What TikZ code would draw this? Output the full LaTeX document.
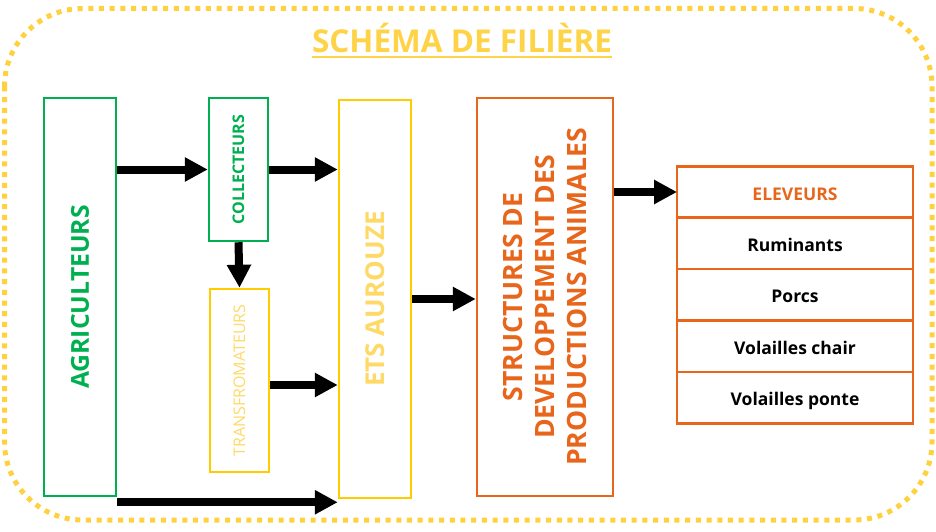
\documentclass[tikz,border=0pt]{standalone}
\usepackage{fontspec}
\setmainfont{Open Sans}
\usetikzlibrary{positioning,arrows.meta}
\definecolor{agrigreen}{HTML}{00B050}
\definecolor{etsyellow}{HTML}{FFCC00}
\definecolor{paleyellow}{HTML}{FFD966}
\definecolor{titleyellow}{HTML}{FFD347}
\definecolor{dotyellow}{HTML}{FFD13F}
\definecolor{sdorange}{HTML}{E7661C}
\tikzset{
  box/.style={draw, line width=2.5pt, minimum width=#1, inner sep=0pt},
  greenbox/.style={box=#1, agrigreen},
  yellowbox/.style={box=#1, etsyellow},
  orangebox/.style={box=#1, sdorange},
  vtext/.style={rotate=90, inner sep=0pt, font=\fontsize{#1}{#1}\selectfont\bfseries},
  row/.style={draw=sdorange, line width=2.5pt, minimum width=236pt, minimum height=51.4pt,
    outer sep=0pt, inner sep=0pt, text height=16pt, text depth=0pt,
    font=\fontsize{17.5}{20}\selectfont\bfseries},
  flow/.style={line width=8pt, -{Triangle[length=23pt,width=23pt]}}
}

\begin{document}
\begin{tikzpicture}[x=1pt,y=-1pt]
\useasboundingbox (0,0) rectangle (936,532);
\draw [dotyellow, line width=5pt, dash pattern=on 5pt off 5.7pt, rounded corners=78pt]
  (4.5,8.5) rectangle (932,520);
\node [titleyellow, anchor=base, inner sep=0pt, font=\fontsize{31.5}{31.5}\selectfont\bfseries]
  (title) at (462,53) {SCHÉMA DE FILIÈRE};
\draw [titleyellow, line width=1.5pt] ([yshift=-4pt]title.base west) -- ([yshift=-4pt]title.base east);

\node [greenbox=72pt, minimum height=398pt] (agri) at (80,297) {};
\node [vtext=24.7, agrigreen] at (agri) {AGRICULTEURS};
\node [greenbox=59pt, minimum height=143pt] (coll) at (238.5,169.5) {};
\node [vtext=16, agrigreen] at (coll) {COLLECTEURS};
\node [yellowbox=59pt, minimum height=183pt] (transf) at (239.5,380.5) {};
\node [vtext=16, paleyellow, font={\fontsize{16}{16}\selectfont\mdseries}] at (transf) {TRANSFROMATEURS};
\node [yellowbox=72pt, minimum height=398pt] (ets) at (375,299) {};
\node [vtext=26, paleyellow] at (ets) {ETS AUROUZE};
\node [orangebox=136pt, minimum height=398pt] (sdpa) at (545,297) {};
\node [vtext=26.6, sdorange, align=center, font=\fontsize{26.6}{32}\selectfont\bfseries] at (sdpa)
  {STRUCTURES DE\\DEVELOPPEMENT DES\\PRODUCTIONS ANIMALES};

\node [row, text=sdorange] (elev) at (795,192) {ELEVEURS};
\node [row, below=0pt of elev] (rum) {Ruminants};
\node [row, below=0pt of rum] (porcs) {Porcs};
\node [row, below=0pt of porcs] (vchair) {Volailles chair};
\node [row, below=0pt of vchair] (vponte) {Volailles ponte};

\draw [flow] (agri.east |- coll.west) -- (coll.west);
\draw [flow] (coll.east) -- (coll.east -| ets.west);
\draw [flow] (coll.south) -- (transf.north);
\draw [flow] ([yshift=-4.5pt]transf.east) -- ([yshift=-4.5pt]transf.east -| ets.west);
\draw [flow] ([yshift=-5pt]agri.south east) -- ([yshift=-5pt]agri.south east -| ets.west);
\draw [flow] (ets.east) -- (ets.east -| sdpa.west);
\draw [flow] (sdpa.east |- elev.west) -- (elev.west);
\end{tikzpicture}
\end{document}
